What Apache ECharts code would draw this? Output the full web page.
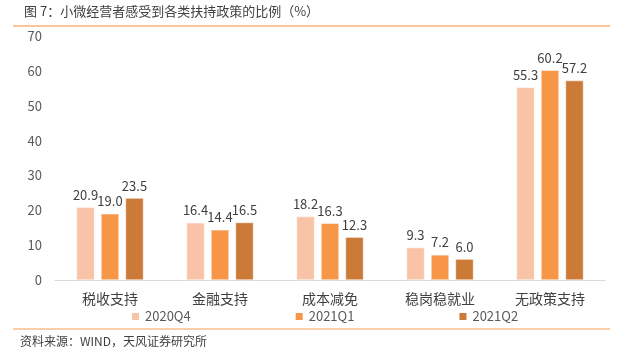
<!DOCTYPE html>
<html><head><meta charset="utf-8">
<script src="https://cdn.jsdelivr.net/npm/echarts@6/dist/echarts.min.js"></script>
<style>html,body{margin:0;padding:0;background:#fff}#c{width:631px;height:362px}</style>
</head><body><div id="c"></div>
<script>
const categories = ['税收支持','金融支持','成本减免','稳岗稳就业','无政策支持'];
const seriesNames = ['2020Q4','2021Q1','2021Q2'];
const s2020Q4 = [20.9,16.4,18.2,9.3,55.3];
const s2021Q1 = [19.0,14.4,16.3,7.2,60.2];
const s2021Q2 = [23.5,16.5,12.3,6.0,57.2];
const yTicks = {min:0,max:70,interval:10};
const colors = ['#F8C3A6','#F79646','#CB7A38'];
const FONT = '"Noto Sans CJK SC","Noto Sans",sans-serif';
const chart = echarts.init(document.getElementById('c'));
const data = [s2020Q4,s2021Q1,s2021Q2];
chart.setOption({
  animation:false,
  textStyle:{fontFamily:FONT},
  grid:{left:55,right:26,top:36,bottom:82,containLabel:false},
  legend:{left:125,top:305,itemWidth:9,itemHeight:9,itemGap:103,icon:'rect',
    textStyle:{fontSize:13,color:'#595959',fontFamily:FONT},data:seriesNames},
  xAxis:{type:'category',data:categories,
    axisLine:{lineStyle:{color:'#d9d9d9'}},axisTick:{show:false},
    axisLabel:{fontSize:14,color:'#404040',margin:12,fontFamily:FONT}},
  yAxis:{type:'value',min:yTicks.min,max:yTicks.max,interval:yTicks.interval,
    axisLine:{show:false},axisTick:{show:false},splitLine:{show:false},
    axisLabel:{fontSize:13,color:'#595959',margin:13,fontFamily:FONT}},
  series:data.map((d,i)=>({name:seriesNames[i],type:'bar',data:d,barWidth:18,barGap:'36%',
    itemStyle:{color:colors[i],borderColor:'#fff',borderWidth:0.5},
    label:{show:true,position:'top',distance:6,fontSize:13,color:'#404040',fontFamily:FONT,
      formatter:p=>p.value.toFixed(1)}})),
  graphic:[
    {type:'text',left:24,top:5,style:{text:'图 7：小微经营者感受到各类扶持政策的比例（%）',fontSize:13,fill:'#404040',fontFamily:FONT}},
    {type:'line',shape:{x1:13,y1:26,x2:610,y2:26},style:{stroke:'#F8B27A',lineWidth:1.5}},
    {type:'line',shape:{x1:13,y1:329,x2:610,y2:329},style:{stroke:'#F0A058',lineWidth:1}},
    {type:'text',left:20,top:335,style:{text:'资料来源：WIND，天风证券研究所',fontSize:12,fill:'#404040',fontFamily:FONT}}
  ]
});
</script></body></html>
